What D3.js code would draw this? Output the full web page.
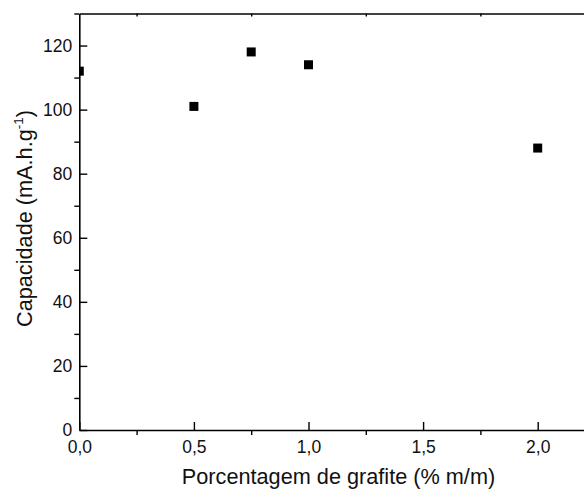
<!DOCTYPE html>
<html>
<head>
<meta charset="utf-8">
<script src="https://cdn.jsdelivr.net/npm/d3@7"></script>
<style>
  html, body { margin: 0; padding: 0; background: #fff; }
  svg { display: block; font-family: "Liberation Sans", Arial, sans-serif; }
</style>
</head>
<body>
<svg id="chart" width="584" height="489"></svg>
<script>
// Graphite content (% m/m) and measured capacity (mA.h.g-1)
const graphite = [0, 0.5, 0.75, 1.0, 2.0];
const capacity = [112, 101, 118, 114, 88];

// Axis ticks and their labels
const xMajorTicks = [0, 0.5, 1.0, 1.5, 2.0];
const xTickLabels = ["0,0", "0,5", "1,0", "1,5", "2,0"];
const xMinorTicks = [0.25, 0.75, 1.25, 1.75, 2.25];
const yMajorTicks = [0, 20, 40, 60, 80, 100, 120];
const yTickLabels = ["0", "20", "40", "60", "80", "100", "120"];
const yMinorTicks = [10, 30, 50, 70, 90, 110, 130];

const xTitle = "Porcentagem de grafite (% m/m)";
const yTitleMain = "Capacidade (mA.h.g";
const yTitleSup = "-1";
const yTitleEnd = ")";

const svg = d3.select("#chart");

const x = d3.scaleLinear().domain([0, 2.25]).range([79.3, 595]);
const y = d3.scaleLinear().domain([0, 130]).range([430, 13.5]);

const plotLeft = x(0), plotRight = x(2.25), plotTop = y(130), plotBottom = y(0);

svg.append("defs").append("clipPath").attr("id", "plot-clip")
  .append("rect")
  .attr("x", plotLeft).attr("y", plotTop)
  .attr("width", plotRight - plotLeft).attr("height", plotBottom - plotTop);

function styleAxis(g, showDomain) {
  g.selectAll(".tick line").attr("stroke", "#000").attr("stroke-width", 1.4);
  g.select(".domain").attr("stroke", showDomain ? "#000" : "none").attr("stroke-width", 1.6);
  g.selectAll("text")
    .attr("fill", "#111")
    .style("font-size", "17.5px")
    .style("font-family", "'Liberation Sans', Arial, sans-serif");
}

// Bottom axis: major ticks inward with labels, minor ticks outward
svg.append("g")
  .attr("transform", `translate(0,${plotBottom})`)
  .call(d3.axisBottom(x).tickValues(xMinorTicks).tickSize(5).tickFormat(""))
  .call(g => styleAxis(g, false));
svg.append("g")
  .attr("transform", `translate(0,${plotBottom})`)
  .call(d3.axisBottom(x).tickValues(xMajorTicks).tickSizeInner(-8).tickSizeOuter(0)
    .tickPadding(11).tickFormat((d, i) => xTickLabels[i]))
  .call(g => styleAxis(g, true));

// Top axis: short inward minor ticks only
svg.append("g")
  .attr("transform", `translate(0,${plotTop})`)
  .call(d3.axisTop(x).tickValues(xMinorTicks).tickSizeInner(-3).tickSizeOuter(0).tickFormat(""))
  .call(g => styleAxis(g, true));

// Left axis: major ticks inward with labels, minor ticks outward
svg.append("g")
  .attr("transform", `translate(${plotLeft},0)`)
  .call(d3.axisLeft(y).tickValues(yMinorTicks).tickSize(5).tickFormat(""))
  .call(g => styleAxis(g, false));
svg.append("g")
  .attr("transform", `translate(${plotLeft},0)`)
  .call(d3.axisLeft(y).tickValues(yMajorTicks).tickSizeInner(-8).tickSizeOuter(0)
    .tickPadding(7).tickFormat((d, i) => yTickLabels[i]))
  .call(g => styleAxis(g, true));

// Data points: filled squares, clipped to the plot frame
const size = 9;
svg.append("g")
  .attr("clip-path", "url(#plot-clip)")
  .selectAll("rect")
  .data(graphite.map((g, i) => ({ g, c: capacity[i] })))
  .join("rect")
  .attr("x", d => x(d.g) - size / 2)
  .attr("y", d => y(d.c) - size / 2)
  .attr("width", size)
  .attr("height", size)
  .attr("fill", "#000");

// Axis titles
svg.append("text")
  .attr("x", 338.5)
  .attr("y", 484)
  .attr("text-anchor", "middle")
  .attr("fill", "#111")
  .style("font-size", "21.7px")
  .text(xTitle);

const yt = svg.append("text")
  .attr("transform", "translate(32,218.5) rotate(-90)")
  .attr("text-anchor", "middle")
  .attr("fill", "#111")
  .style("font-size", "21.7px");
yt.append("tspan").text(yTitleMain);
yt.append("tspan").attr("dy", -9).style("font-size", "13.5px").text(yTitleSup);
yt.append("tspan").attr("dy", 9).text(yTitleEnd);
</script>
</body>
</html>
